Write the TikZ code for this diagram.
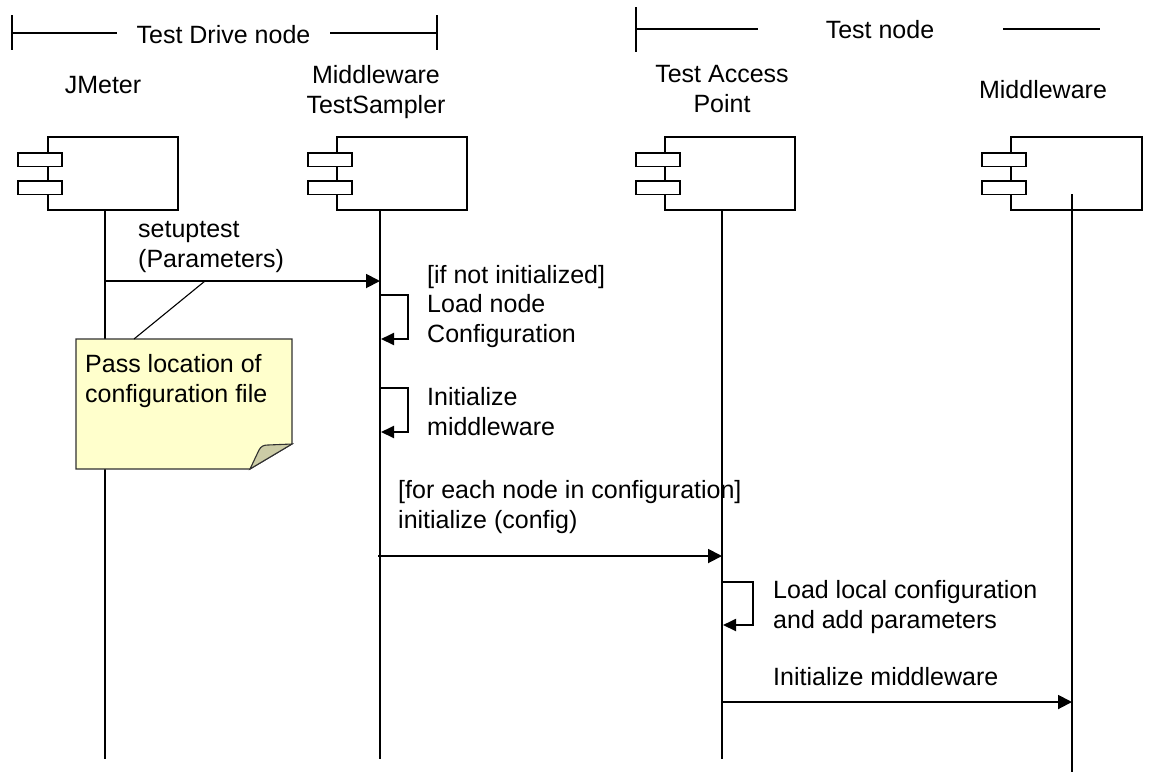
\documentclass[tikz,border=0pt]{standalone}
\usepackage{fontspec}
\setmainfont{Liberation Sans}
\usetikzlibrary{arrows.meta}
\definecolor{notefill}{HTML}{FFFFCC}
\definecolor{foldfill}{HTML}{CCCCA6}
\definecolor{notedraw}{HTML}{303030}
\begin{document}
\begin{tikzpicture}[x=1pt,y=-1pt,
  txt/.style={inner sep=0pt, font=\fontsize{25}{29.5}\selectfont},
  comp/.style={draw, line width=1.9pt, fill=white, minimum width=130pt, minimum height=73pt, inner sep=0pt, anchor=north west},
  port/.style={draw, line width=1.9pt, fill=white, minimum width=44pt, minimum height=13.5pt, inner sep=0pt, anchor=north west},
  life/.style={line width=1.4pt},
  msg/.style={line width=1.9pt, -{Triangle[length=14pt,width=14pt]}},
  selfmsg/.style={line width=1.9pt, -{Triangle[length=13pt,width=12pt]}},
  hdr/.style={line width=1.4pt}]
\useasboundingbox (0,0) rectangle (1155,772);

% header brackets
\node[txt, anchor=base] (tdn) at (223.5,43) {Test Drive node};
\coordinate (tdl) at (12,33);
\coordinate (tdlm) at (117,33);
\coordinate (tdrm) at (330,33);
\coordinate (tdr) at (437,33);
\draw[hdr] (12,15) -- (12,50);
\draw[hdr] (437,15) -- (437,50);
\draw[hdr] (tdl) -- (tdlm);
\draw[hdr] (tdrm) -- (tdr);

\node[txt, anchor=base] (tn) at (880,38) {Test node};
\coordinate (tnl) at (636,29);
\coordinate (tnlm) at (758,29);
\coordinate (tnrm) at (1003,29);
\coordinate (tnr) at (1100,29);
\draw[hdr] (636,7) -- (636,52);
\draw[hdr] (tnl) -- (tnlm);
\draw[hdr] (tnrm) -- (tnr);

% labels (base = baseline of last line)
\node[txt, anchor=base] (lab1) at (103,93) {JMeter};
\node[txt, anchor=base, align=center] (lab2) at (376,113) {Middleware\\TestSampler};
\node[txt, anchor=base, align=center] (lab3) at (722,112) {Test Access\\Point};
\node[txt, anchor=base] (lab4) at (1043,98) {Middleware};

% components
\node[comp] (c1) at (47,136) {};
\node[port] (c1a) at (17,152) {};
\node[port] (c1b) at (17,180) {};
\node[comp] (c2) at (336,136) {};
\node[port] (c2a) at (307,152) {};
\node[port] (c2b) at (307,180) {};
\node[comp] (c3) at (664,136) {};
\node[port] (c3a) at (635,152) {};
\node[port] (c3b) at (635,180) {};
\node[comp, minimum width=131pt] (c4) at (1010,136) {};
\node[port] (c4a) at (981,152) {};
\node[port] (c4b) at (981,180) {};

% lifelines
\coordinate (l1t) at (105,209); \coordinate (l1b) at (105,759);
\coordinate (l2t) at (380,209); \coordinate (l2b) at (380,759);
\coordinate (l3t) at (722,209); \coordinate (l3b) at (722,759);
\coordinate (l4t) at (1072,194); \coordinate (l4b) at (1072,772);
\draw[life] (l1t) -- (l1b);
\draw[life] (l2t) -- (l2b);
\draw[life] (l3t) -- (l3b);
\draw[life] (l4t) -- (l4b);

% setuptest
\node[txt, anchor=base west, align=left] (m1) at (138,267) {setuptest\\(Parameters)};
\coordinate (m1s) at (105,281);
\coordinate (m1e) at (380,281);
\draw[msg] (m1s) -- (m1e);

% note
\draw[draw=notedraw, line width=1.1pt, fill=notefill] (76,339) -- (292,339) -- (292,444) -- (250,469) -- (76,469) -- cycle;
\draw[draw=notedraw, line width=1.1pt, fill=foldfill] (250,469) -- (259,450) .. controls (261,446) and (264,445) .. (268,445) -- (292,444) -- cycle;
\node[txt, anchor=base west, align=left] (note) at (85,402) {Pass location of\\configuration file};
\coordinate (notelink) at (205,281);
\coordinate (notetop) at (134,339);
\draw[line width=1.1pt] (notelink) -- (notetop);

% self call 1
\node[txt, anchor=base west, align=left] (s1) at (427,342) {[if not initialized]\\Load node\\Configuration};
\coordinate (s1a) at (380,295);
\coordinate (s1b) at (381,339);
\draw[selfmsg] (s1a) -- (408,295) -- (408,339) -- (s1b);

% self call 2
\node[txt, anchor=base west, align=left] (s2) at (427,435) {Initialize\\middleware};
\coordinate (s2a) at (380,388);
\coordinate (s2b) at (381,432);
\draw[selfmsg] (s2a) -- (408,388) -- (408,432) -- (s2b);

% initialize (config)
\node[txt, anchor=base west, align=left] (m2) at (398,528) {[for each node in configuration]\\initialize (config)};
\coordinate (m2s) at (378,556);
\coordinate (m2e) at (722,556);
\draw[msg] (m2s) -- (m2e);

% self call 3
\node[txt, anchor=base west, align=left] (s3) at (773,628) {Load local configuration\\and add parameters};
\coordinate (s3a) at (722,582);
\coordinate (s3b) at (723,625);
\draw[selfmsg] (s3a) -- (753,582) -- (753,625) -- (s3b);

% initialize middleware
\node[txt, anchor=base west] (m3) at (773,685) {Initialize middleware};
\coordinate (m3s) at (722,702);
\coordinate (m3e) at (1072,702);
\draw[msg] (m3s) -- (m3e);
\end{tikzpicture}
\end{document}
